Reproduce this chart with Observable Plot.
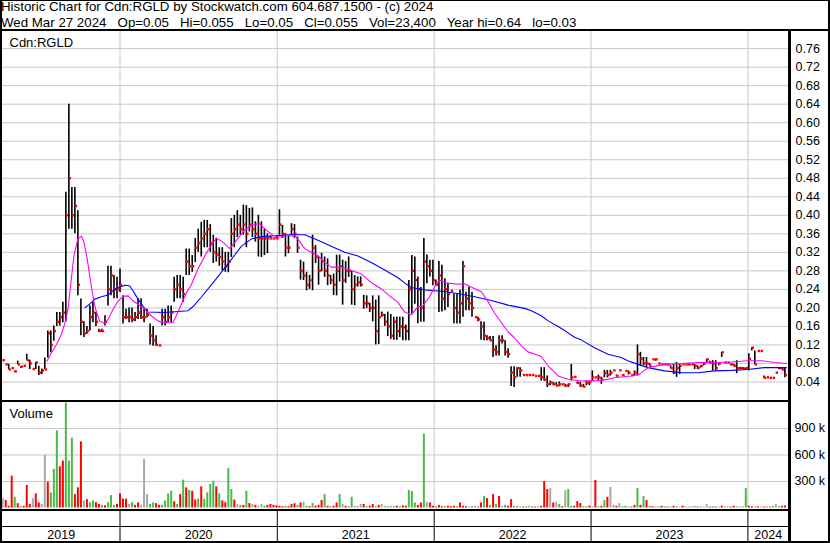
<!DOCTYPE html>
<html><head><meta charset="utf-8">
<script src="https://cdn.jsdelivr.net/npm/d3@7"></script>
<script src="https://cdn.jsdelivr.net/npm/@observablehq/plot@0.6"></script>
<style>
body{margin:0;background:#fff;}
#wrap{position:relative;width:830px;height:543px;overflow:hidden;font-family:"Liberation Sans",Arial,sans-serif;background:#fff;}
.ln{position:absolute;background:#000;}
.hd{position:absolute;left:1px;font-size:13.3px;line-height:13px;white-space:pre;color:#000;}
.pl{position:absolute;left:0;}
</style></head><body>
<div id="wrap">
<div class="hd" style="top:0px">Historic Chart for Cdn:RGLD by Stockwatch.com 604.687.1500 - (c) 2024</div>
<div class="hd" style="top:15.5px">Wed Mar 27 2024   Op=0.05   Hi=0.055   Lo=0.05   Cl=0.055   Vol=23,400   Year hi=0.64   lo=0.03</div>
<div id="price" class="pl" style="top:30px"></div>
<div id="volume" class="pl" style="top:402px"></div>
<div id="years" class="pl" style="top:511px"></div>
<div class="ln" style="left:0;top:0;width:830px;height:1px"></div>
<div class="ln" style="left:0;top:0;width:2px;height:543px"></div>
<div class="ln" style="left:828px;top:0;width:2px;height:543px"></div>
<div class="ln" style="left:0;top:29px;width:830px;height:2px"></div>
<div class="ln" style="left:788px;top:29px;width:3px;height:514px"></div>
<div class="ln" style="left:0;top:400px;width:791px;height:2px"></div>
<div class="ln" style="left:0;top:509px;width:791px;height:2px"></div>
<div class="ln" style="left:0;top:526px;width:791px;height:1px"></div>
<div class="ln" style="left:0;top:541px;width:830px;height:2px"></div>
</div>
<script>
// ---- data (prices in cents, one entry per week from 2019-04-03) ----
const weekStart = "2019-04-03";
const hi = [8.7,7.8,7.8,7.0,6.3,8.5,7.3,7.5,10,8.7,6.8,8.2,7.4,6.8,9.2,15,15,16.1,19,19,
21.2,45,64,46,46,41,21.9,17,16,20.4,21.2,19,15.4,15.4,18.3,29,29,27,26.6,28.4,
22.6,19.7,20,20,19,22,22,19.7,19.7,16.5,16,14,11.9,19.7,19.7,20.4,20.4,26.6,27,27,
26.6,32.7,32.7,31.3,35,37,38.5,38.9,38.9,38,35.7,35,33,33,32,32,39.3,40,41,40,
42.2,42.1,41.5,41.6,38.6,40,38.6,37,36,35.5,35,35.5,41.2,37.8,36,35.7,38.2,38,35.3,30.3,
29.9,27.7,27,35.7,33.5,31,31.8,31,30.6,27,27.3,31.4,31.4,30.3,30,31,28,27,26.7,26.7,
22.7,22.6,21,22.6,21.7,22.6,19.1,18.6,19.1,18.6,18,18,18,18,16.3,25.9,31.3,31,26.7,24.4,
35,31.4,30.3,30.3,26,30,29.2,26.3,25.2,23.7,23,23,23.8,30,23.4,24.5,23.4,18,18,17,
16.9,14,13.8,13.8,11.8,14,14,12.9,11.2,7.3,7.3,7.1,7.1,5.6,5.6,5.6,5.5,5.3,5.3,7.1,
7.1,5.3,4.2,3.9,3.9,4,3.5,3.5,3.5,7.8,5.1,4,3.9,3.5,4.2,4.2,6.4,5,5.5,5,
6.5,6.5,6.5,6.5,5.5,6.5,5.5,6.4,6.4,5.5,6.4,12,10.4,9.3,9.3,8,8.9,8.9,8,7.8,
7.8,7.8,7.5,7.8,8.2,7.8,7.8,7.8,7.8,7.8,7.8,7.5,7.5,8,8.9,8.5,8.6,8.6,8,10.4,
8.2,8.2,7.8,7.8,8.6,7.1,7.1,7,10.1,11.4,10.7,10.7,10.7,5.3,5,4.9,4.9,6,7.1,7.1,7.1];
const lo = [8.7,7.8,6.7,7.0,6.0,7.8,7.0,7.5,8.7,6.7,6.8,6.7,5.4,5.6,6.7,9.2,10.3,12.8,16,16.1,
16.8,17,37,37,36,22.6,14,13.6,14.3,15,16.8,16,14.7,14.7,16.1,20.4,22.6,22,22,23.3,
16.5,17.5,16.8,16.8,17,17.5,17.5,16.8,17.9,12,11.7,11.7,11.9,16.1,16.1,16.8,16.8,21.2,22,22,
21.2,27,27,27.7,29.8,32,31,33,33,32,29.6,29.9,29,28,27.7,27.6,30.9,33,35.2,35.7,
35.7,33,36.4,35.2,34.2,31,30.9,31.3,31.7,35,35,35,35.7,35,31,31.7,35.7,35,31.8,26,
25.9,23.7,24,23.7,29.6,24.9,27.8,26.6,24.8,25,22.7,22.6,25.6,20.6,25.3,26.6,20.6,20.5,24.5,24.5,
19.7,19.9,19,17,12,12.1,18,16,13.8,13.2,13,13,13.6,12.9,12.9,12.9,18.7,20.8,16.6,16.9,
16.9,25.2,26.7,24.8,24.8,19,19.1,19.4,20.1,23.7,16.6,16.5,16.5,18,19.4,19.4,18,18,17,13,
12.9,12.9,12.9,9.3,9.6,9.6,12.2,9.6,9.1,3,2.8,5,5,5.5,5.5,5.5,5.5,5.3,5.3,4.2,
4.2,2.8,3.2,3.2,3.2,3,3.5,2.8,2.8,4.2,5.1,3.5,2.8,2.8,3.2,3.2,4.2,5,4.2,3.5,
4.9,4.9,5.3,6.5,5.3,6.5,5.3,6.4,5.5,5.5,5.3,5.3,7.5,7.5,7.1,7.5,8.9,8.5,8,7.8,
7.8,7.5,7,5.6,5,5.6,7.8,7.8,7.5,7.8,6.7,6.7,7,7.5,8.2,8.2,6.4,6.4,7.5,9.3,
8.2,8.2,7.5,7.5,5.8,6.7,6.7,6.5,6.4,10.7,7.8,10.7,10.7,4.9,5,4.9,4.9,6,6.7,6.7,4.9];
const cl = [8.7,7.8,6.7,7.0,6.3,7.8,7.3,7.5,8.7,8.0,6.8,8.2,6.0,6.5,6.7,14.5,12,15,17,18,
19,40,48,40,42,25,17,14.5,15,18,19,17,15,15,17,24,27,24,24,25,
18,18,18,17.5,18,19,18,18,18.5,14,13,12,11.9,18,17,18,19,24,25,24,
23,30,29,29,33,34,35,36,37,34,32,31.5,31,30,29,30,36,37,38,37,
38,36,38,37,36,35,35,35,35,35,35,35,38,36,33,33,37,36,33,28,
27,25,26,33,31,28,30,28,27,26,25,28,29,26,28,28,24,25,25.5,25,
21,21,20,20,15,18,18.5,17,16,14,17,15,16,15.8,15,24,28,26,24,20,
30,29,28,26,25,27,22,24,23,23.7,20,19,21,29,22,21,20,18,17.5,16,
14,13.5,13,11,10.5,13,13,10.5,10,6,5,7,6.5,5.5,5.5,5.5,5.5,5.3,5.3,5,
4.5,3.5,3.9,3.5,3.2,3.5,3.5,3.2,3.5,5,5.1,3.8,3.2,3,3.8,4,5,5,5,4.5,
6,5.5,6,6.5,5.3,6.5,5.5,6.4,6,5.5,6,10,9,8,8,7.5,8.9,8.9,8,7.8,
7.8,7.8,7,6,7,7.5,7.8,7.8,7.8,7.8,7.5,7,7.5,8,8.9,8.2,8,7,8,10.4,
8.2,8.2,7.8,7.5,7,7,6.9,7,9,11.4,7.8,10.7,10.7,4.9,5,4.9,4.9,6,7,6.7,5.5];
// volume in thousands per week
const vol = [106,87,20,361,122,49,15,20,255,40,106,160,57,40,597,293,171,437,874,467,
532,1189,532,790,152,228,749,80,95,60,80,60,40,30,25,60,140,30,40,160,
100,100,40,60,30,57,30,551,152,40,57,50,30,30,80,160,190,70,40,152,
315,228,200,190,90,100,239,98,171,266,304,239,160,80,60,445,209,90,40,30,
30,190,50,40,30,20,40,20,30,40,30,25,20,15,20,15,38,49,30,57,
65,20,15,50,20,30,84,152,20,15,20,57,152,40,20,15,122,20,20,40,
40,15,20,40,15,30,40,20,15,20,15,20,15,25,20,198,186,57,30,57,
836,65,57,20,15,30,15,15,20,15,20,15,57,20,15,10,15,20,10,57,
129,106,30,152,40,129,20,30,20,95,20,15,15,10,15,20,15,10,15,20,
300,209,220,57,65,40,15,198,209,20,20,72,50,15,15,20,15,312,15,20,
84,122,232,30,20,50,15,20,15,10,30,220,30,129,84,20,15,10,15,20,
15,10,10,20,15,10,20,15,10,15,20,10,15,10,40,10,15,10,10,20,
10,15,10,20,15,10,15,220,20,15,10,15,10,10,15,10,20,40,15,20,23];
// direction of each volume bar: g = up, r = down, a = unchanged
const volDirs = ("a r r r g r g r r r a r r a a r g g g r " +
"r g g g r r r a r g g r r g r g g g r r " +
"r r a g r r a a a g g r r g g g g r g r " +
"g r g r r g r g g g g r g r r g g r a g " +
"r g r a r a a g r r r r r r g r r r g r " +
"a g r g r r r g r g r r g a r g g a a a " +
"r g r r g r a a g a g r g r r g g g r r " +
"g a r r g r r g r r r g r r r a g a r r " +
"g r g r g r a g r r g g a r g a g r a r " +
"r r a r a g r a g g r r r g g r a r g r " +
"g r a a r a g g a r r g r g r g r g a r " +
"g r g r g a r a g a a r a a a r g r a r " +
"g a r r a g a g r r g r a r a r g a g r r").trim().split(" ");
// ---- moving averages [week, cents] ----
const maShort = [[14.7,8.5],[16.2,10.3],[17.9,12.1],[19.5,14.3],[20.6,16.5],[21.7,19.7],[22.8,26.2],[23.7,31.3],[25,34.9],[26.2,35.5],[27,34.2],[28.1,30.6],[28.9,27],[30,22.6],[30.9,19.7],[32.2,17.2],[33.9,16.6],[35,17.5],[36.7,19.7],[38.4,21.5],[40,22.5],[41.7,22.6],[43.3,21.5],[45,20.8],[47.2,19.7],[49.4,18.3],[51.6,17.2],[53.8,16.8],[56.6,16.8],[57.7,18.3],[59.4,20.8],[61.1,23.3],[62.7,25],[64.9,28.4],[68.2,32.4],[71,35.1],[73.2,34.2],[75.5,32.8],[77.7,34.6],[80.4,36.8],[83.1,38],[85.4,38.2],[87.6,36.8],[89.8,35.7],[92.1,35.3],[94.9,35.7],[97.6,35.3],[100.4,32.8],[102.6,32],[104.8,31.3],[107,29.9],[109.2,28.8],[112.6,28.8],[115.9,28.1],[119.2,27.3],[122.5,25.5],[125.9,24.1],[128.6,22.6],[131.4,21.2],[133.6,19.1],[135.8,18.5],[138,20.2],[139.7,20.5],[141.9,22.4],[143.6,24.5],[145.2,26],[147.5,25.4],[151.3,25.1],[153.5,25.2],[155.7,24.5],[159.1,23.5],[161.4,21.3],[163.6,18.8],[165.8,16.8],[168,14.8],[170.2,13.5],[172.4,11.8],[174.6,10.5],[177,10],[179,9.5],[181.3,7.5],[184.6,5.3],[188,4.6],[192.3,4.2],[199,4.3],[203.3,4.9],[209,5.3],[211.5,5.6],[214.5,7.1],[220,7.8],[225.6,8],[231.1,8.2],[236.6,8.2],[242.2,8.3],[247.7,8.6],[252.2,8.6],[256.5,8.2],[260.5,8]];
const maLong = [[27.3,20],[28.9,20.8],[30.6,21.9],[32.8,22.4],[35,22.8],[36.7,23.7],[38.4,24.4],[40.6,24.9],[42.2,24.8],[43.3,23.7],[45,21.9],[46.6,20.4],[48.3,19.1],[53.8,19],[61.6,19.4],[63.3,20.3],[66,22.3],[70.5,25.9],[74.9,29.5],[79.3,33.3],[82.7,34.9],[86,35.4],[90.4,35.6],[96,35.8],[100.4,35.8],[104.8,34.6],[109.2,33.3],[113.7,32],[118.1,31.2],[122.5,29.8],[127,28.2],[131.4,26.5],[133.6,25.4],[135.8,24.4],[140.2,23.9],[145.8,23.6],[151.3,23.1],[156.9,22.4],[162.4,21.6],[168,20.6],[173.5,19.9],[175.7,19.4],[179,18.3],[181.3,17.2],[184.6,16],[186.8,15.1],[190.2,13.6],[192.3,13.1],[196.7,11.4],[201.2,10],[205.6,9.3],[207.8,8.6],[211.2,7.8],[214.5,7.1],[220,6.4],[225.6,6],[231.1,6],[236.6,6.4],[242.2,6.5],[247.7,6.7],[253.2,7.1],[260.5,7.1]];
const priceTicks = d3.range(1, 20).map(k => k * 0.04);
const volTicks = [300000, 600000, 900000];
const yearList = [2019, 2020, 2021, 2022, 2023, 2024];

// ---- build tables ----
const DAY = 864e5;
const t0 = Date.parse(weekStart + "T00:00:00Z");
const wDate = w => new Date(t0 + w * 7 * DAY);
const bars = hi.map((h, i) => ({date: wDate(i), hi: h / 100, lo: lo[i] / 100, cl: cl[i] / 100}));
const volData = vol.map((v, i) => ({date: wDate(i), v: v * 1000, d: volDirs[i] || "a"}));
const toLine = arr => arr.map(([w, c]) => ({date: wDate(w), p: c / 100}));
const xDomain = [new Date("2019-04-02T14:00:00Z"), new Date("2024-04-04T10:00:00Z")];
const yearStarts = yearList.map(y => new Date(Date.UTC(y, 0, 1)));
const innerYears = yearStarts.filter(d => d > xDomain[0]);
const font = '"Liberation Sans", Arial, sans-serif';
const baseStyle = {fontFamily: font, fontSize: "12.5px", color: "#000", background: "transparent", overflow: "visible"};
const gridCol = "#c8c8c8";

const price = Plot.plot({
  width: 830, height: 370,
  marginLeft: 2, marginRight: 42, marginTop: 1, marginBottom: 0,
  style: baseStyle,
  x: {type: "utc", domain: xDomain, axis: null},
  y: {domain: [0, 0.797], axis: null},
  marks: [
    Plot.gridY(priceTicks, {stroke: gridCol, strokeOpacity: 1}),
    Plot.gridX(innerYears, {stroke: gridCol, strokeOpacity: 1}),
    Plot.ruleX(bars, {x: "date", y1: "lo", y2: "hi", stroke: "#000", strokeWidth: 1.6}),
    Plot.dot(bars, {x: "date", y: "cl", symbol: "square", r: 1.35, fill: "#ff0000", stroke: "none", dx: 1}),
    Plot.line(toLine(maLong), {x: "date", y: "p", stroke: "#0000ff", strokeWidth: 1.1}),
    Plot.line(toLine(maShort), {x: "date", y: "p", stroke: "#ff00ff", strokeWidth: 1.1}),
    Plot.axisY({ticks: priceTicks, anchor: "right", label: null, tickSize: 0, tickPadding: 7, tickFormat: d3.format(".2f"), fontSize: 12.5}),
    Plot.text(["Cdn:RGLD"], {frameAnchor: "top-left", dx: 7, dy: 6, fontSize: 13, fill: "#000"})
  ]
});
document.getElementById("price").appendChild(price);

const colorOf = {g: "#4cb848", r: "#ff0000", a: "#a8a8a8"};
const volume = Plot.plot({
  width: 830, height: 107,
  marginLeft: 2, marginRight: 42, marginTop: 0, marginBottom: 1.5,
  style: baseStyle,
  x: {type: "utc", domain: xDomain, axis: null},
  y: {domain: [0, 1194300], axis: null},
  marks: [
    Plot.gridY(volTicks, {stroke: gridCol, strokeOpacity: 1}),
    Plot.gridX(innerYears, {stroke: gridCol, strokeOpacity: 1}),
    Plot.ruleX(volData, {x: "date", y1: 0, y2: "v", stroke: d => colorOf[d.d], strokeWidth: 2}),
    Plot.axisY({ticks: volTicks, anchor: "right", label: null, tickSize: 0, tickPadding: 6, tickFormat: d => d / 1000 + " k", fontSize: 12.5}),
    Plot.text(["Volume"], {frameAnchor: "top-left", dx: 7, dy: 6.3, fontSize: 13, fill: "#000"})
  ]
});
document.getElementById("volume").appendChild(volume);

const yearLabels = yearList.map(y => {
  const s = Math.max(Date.UTC(y, 0, 1), +xDomain[0]);
  const e = Math.min(Date.UTC(y + 1, 0, 1), +xDomain[1]);
  return {date: new Date((s + e) / 2), label: String(y)};
});
const years = Plot.plot({
  width: 830, height: 30,
  marginLeft: 2, marginRight: 42, marginTop: 0, marginBottom: 0,
  style: baseStyle,
  x: {type: "utc", domain: xDomain, axis: null},
  marks: [
    Plot.ruleX(innerYears, {stroke: "#000", strokeWidth: 1}),
    Plot.text(yearLabels, {x: "date", text: "label", frameAnchor: "bottom", dy: -2.5, fontSize: 12.5, fill: "#000"})
  ]
});
document.getElementById("years").appendChild(years);
</script>
</body></html>
